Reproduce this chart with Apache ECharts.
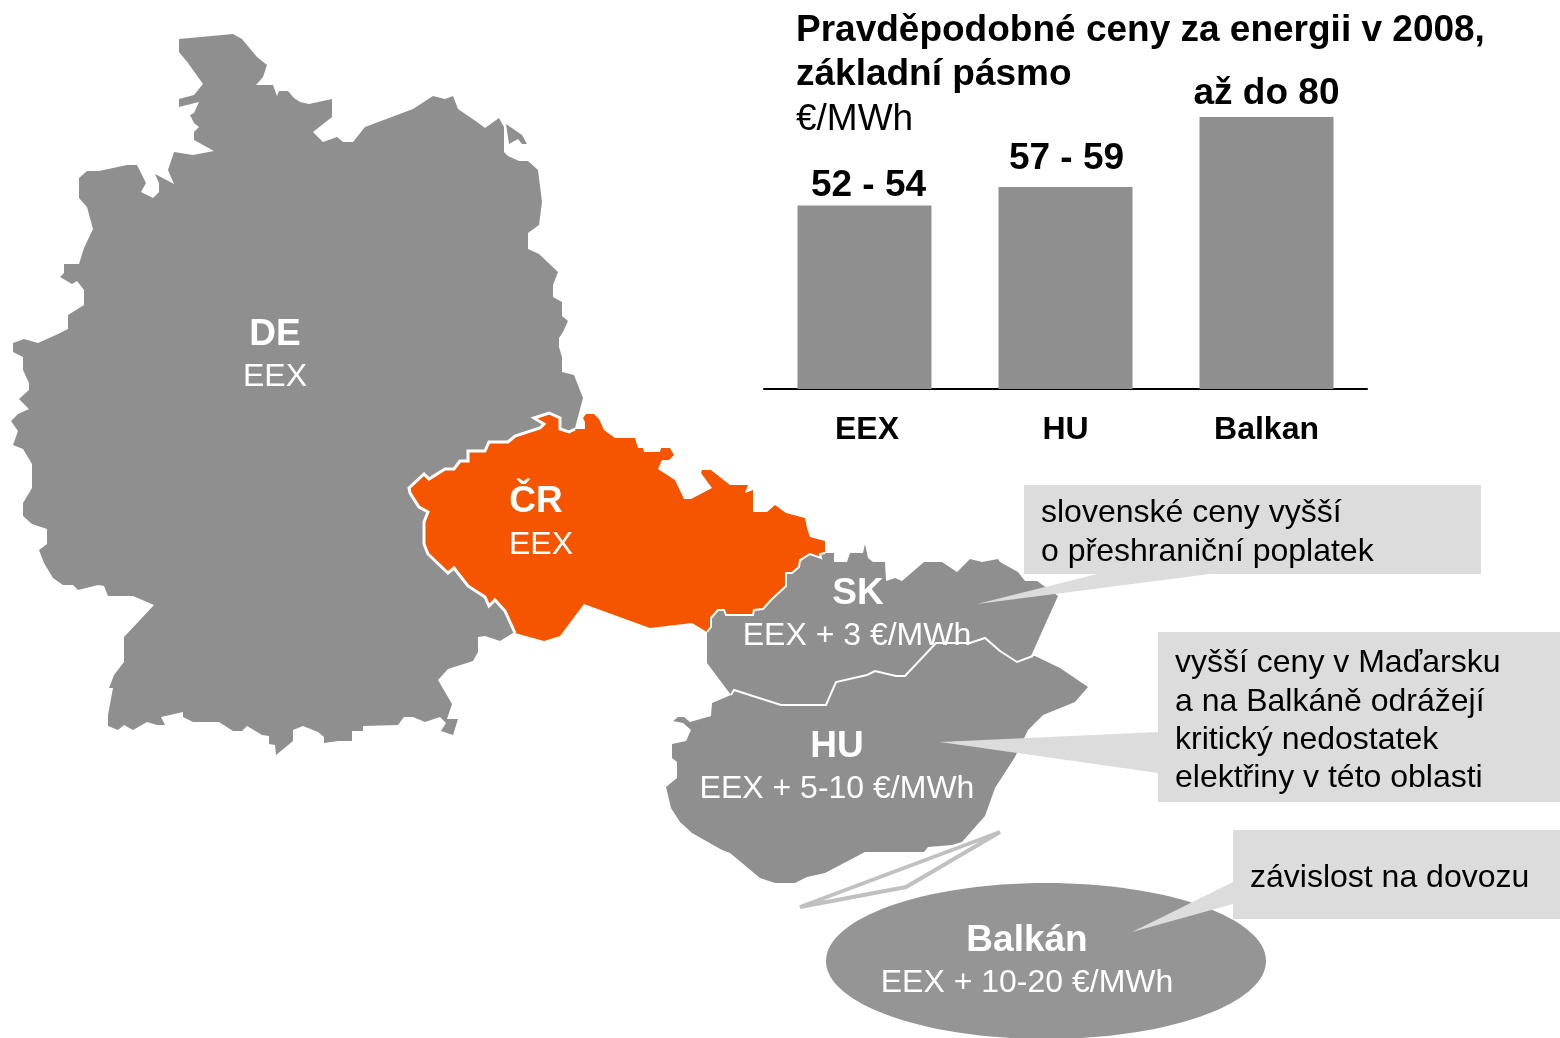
<!DOCTYPE html>
<html>
<head>
<meta charset="utf-8">
<style>
  html, body { margin: 0; padding: 0; background: #fff; }
  #chart { width: 1560px; height: 1038px; }
</style>
<script src="https://cdn.jsdelivr.net/npm/echarts@6/dist/echarts.min.js"></script>
</head>
<body>
<div id="chart"></div>
<script>
// chart data
const categories = ['EEX', 'HU', 'Balkan'];
const priceTop = [54, 59.4, 80];
const rangeLabels = ['52 - 54', '57 - 59', 'až do 80'];

// map outlines, decoration only
const germany = [[179,39],[233,34],[242,39],[257,57],[267,65],[263,77],[256,85],[273,85],[277,96],[279,91],[288,91],[294,98],[300,102],[309,104],[332,99],[332,117],[313,132],[323,142],[337,137],[343,142],[353,142],[365,127],[413,109],[433,96],[445,99],[453,96],[458,109],[477,122],[485,128],[499,118],[504,127],[504,152],[508,156],[519,161],[528,161],[538,170],[542,202],[539,225],[528,233],[528,249],[539,254],[558,272],[553,285],[553,297],[562,302],[562,316],[568,321],[563,332],[559,338],[559,347],[562,357],[562,372],[574,375],[583,398],[575,428],[560,500],[513,633],[500,641],[485,636],[478,637],[478,652],[473,661],[448,669],[438,680],[452,704],[447,719],[458,719],[453,735],[441,731],[446,723],[440,717],[425,722],[413,717],[404,717],[398,725],[363,726],[363,731],[352,731],[352,741],[338,741],[324,743],[324,737],[318,732],[303,726],[293,730],[293,741],[276,755],[275,745],[269,744],[269,736],[262,735],[247,726],[242,731],[233,731],[219,722],[193,722],[183,717],[183,712],[161,717],[165,725],[157,725],[147,722],[133,730],[124,725],[118,730],[108,726],[108,715],[113,688],[109,688],[114,675],[124,662],[124,637],[154,605],[133,596],[108,596],[104,586],[98,585],[78,590],[73,585],[63,585],[53,578],[44,563],[39,550],[47,544],[47,529],[32,524],[23,516],[23,503],[32,488],[32,464],[23,449],[13,445],[18,431],[11,421],[18,414],[29,409],[19,399],[29,390],[29,383],[23,370],[23,357],[13,352],[13,343],[24,339],[38,343],[58,334],[68,329],[68,315],[84,305],[84,290],[77,281],[72,284],[60,277],[64,273],[64,264],[79,264],[84,248],[93,229],[87,207],[79,198],[79,178],[87,171],[99,171],[127,165],[137,165],[146,183],[141,192],[153,198],[159,192],[159,183],[155,174],[174,184],[168,170],[174,152],[193,155],[214,151],[194,140],[194,132],[199,127],[194,123],[190,115],[194,113],[199,102],[179,107],[179,99],[194,95],[203,84],[188,63],[179,52]];
const ruegen = [[506,124],[522,135],[527,144],[522,144],[518,139],[509,144]];
const czechia = [[409,488],[424,474],[429,479],[445,469],[454,469],[460,461],[468,461],[468,451],[485,451],[489,442],[508,442],[515,436],[540,428],[544,424],[534,418],[549,413],[560,418],[560,429],[569,432],[575,429],[585,429],[585,422],[583,418],[586,414],[594,414],[599,419],[604,430],[615,438],[635,438],[638,448],[643,448],[644,452],[660,452],[661,448],[670,448],[674,455],[669,460],[662,460],[658,469],[675,480],[684,499],[691,499],[712,488],[701,473],[702,470],[711,470],[730,485],[748,485],[745,493],[753,490],[753,512],[767,512],[775,505],[786,513],[805,518],[807,528],[810,537],[825,541],[825,553],[820,554],[821,558],[810,554],[800,560],[799,567],[792,573],[786,573],[786,586],[771,600],[763,609],[754,610],[753,615],[726,615],[724,610],[718,610],[711,618],[711,627],[707,632],[692,623],[650,628],[584,604],[560,636],[544,641],[515,633],[505,611],[495,600],[489,606],[485,597],[468,586],[454,568],[448,573],[428,554],[424,544],[424,522],[428,512],[419,507],[410,493]];
const slovakia = [[707,633],[711,617],[718,610],[786,573],[810,554],[825,553],[834,553],[834,562],[847,562],[850,553],[863,553],[865,544],[868,558],[873,562],[885,562],[886,581],[895,578],[902,581],[924,562],[942,562],[957,572],[970,559],[982,562],[998,559],[1000,562],[1018,572],[1025,581],[1037,581],[1058,596],[1031,656],[1017,662],[1000,651],[985,638],[970,643],[936,643],[905,676],[896,676],[875,671],[867,675],[836,682],[826,705],[781,705],[734,690],[731,695],[707,663]];
const hungary = [[731,695],[712,703],[711,716],[690,722],[684,717],[678,717],[673,721],[683,723],[691,730],[686,741],[672,744],[672,758],[677,762],[677,778],[666,787],[671,808],[680,822],[692,833],[722,850],[730,853],[760,878],[775,883],[795,883],[807,877],[825,873],[865,852],[924,852],[928,847],[952,845],[962,842],[985,816],[995,788],[1015,757],[1028,730],[1043,715],[1075,702],[1088,687],[1060,668],[1035,656],[1031,656],[1017,662],[1000,651],[985,638],[970,643],[936,643],[905,676],[896,676],[875,671],[867,675],[836,682],[826,705],[781,705],[734,690]];
const skHuBorder = [[731,695],[734,690],[781,705],[826,705],[836,682],[867,675],[875,671],[896,676],[905,676],[936,643],[970,643],[985,638],[1000,651],[1017,662],[1033,656]];
const bracket = [[800,907],[1000,832],[906,887]];

// white lines only where the Czech border touches grey land
const czWest = czechia.slice(czechia.findIndex(p => p[0] === 515 && p[1] === 633))
  .concat(czechia.slice(0, czechia.findIndex(p => p[0] === 575 && p[1] === 429) + 1));
const czEast = czechia.slice(
  czechia.findIndex(p => p[0] === 825 && p[1] === 553),
  czechia.findIndex(p => p[0] === 707 && p[1] === 632) + 1
);

const GREY = '#8f8f8f';
const CALLOUT = '#dcdcdc';

function poly(points, fill, extra) {
  return Object.assign({
    type: 'polygon',
    shape: { points: points },
    style: { fill: fill }
  }, extra || {});
}

function whiteLine(points, width) {
  return { type: 'polyline', z: 4, shape: { points: points }, style: { stroke: '#fff', lineWidth: width, fill: null } };
}

function label(text, x, y, size, fill, bold, align) {
  return {
    type: 'text',
    x: x,
    y: y,
    z: 20,
    style: {
      text: text,
      fill: fill,
      font: (bold ? 'bold ' : '') + size + 'px "Liberation Sans", Arial, sans-serif',
      textAlign: align || 'center',
      textVerticalAlign: 'middle'
    }
  };
}

const myChart = echarts.init(document.getElementById('chart'), null, { renderer: 'canvas' });

myChart.setOption({
  animation: false,
  backgroundColor: '#fff',
  title: {
    text: 'Pravděpodobné ceny za energii v 2008,\nzákladní pásmo',
    subtext: '€/MWh',
    left: 796,
    top: 9,
    padding: 0,
    itemGap: 1,
    textStyle: { fontFamily: 'Liberation Sans', fontSize: 37, fontWeight: 'bold', color: '#000', lineHeight: 44 },
    subtextStyle: { fontFamily: 'Liberation Sans', fontSize: 37, color: '#000', lineHeight: 44 }
  },
  grid: { left: 764, top: 117, width: 603, height: 272 },
  xAxis: {
    type: 'category',
    data: categories.map((c, i) => (i === 0 ? { value: c, textStyle: { padding: [0, 0, 0, 5] } } : c)),
    axisTick: { show: false },
    axisLine: { lineStyle: { color: '#000', width: 2 } },
    axisLabel: {
      fontFamily: 'Liberation Sans',
      fontSize: 32,
      fontWeight: 'bold',
      color: '#000',
      margin: 25
    }
  },
  yAxis: { type: 'value', min: 0, max: 80, show: false, splitLine: { show: false } },
  series: [{
    type: 'bar',
    barWidth: 134,
    itemStyle: { color: GREY },
    data: priceTop,
    label: {
      show: true,
      position: 'top',
      fontFamily: 'Liberation Sans',
      fontSize: 37,
      fontWeight: 'bold',
      color: '#000',
      formatter: p => rangeLabels[p.dataIndex]
    },
    labelLayout: p => ({ dy: [4, -5, 0][p.dataIndex], dx: [4, 1, 0][p.dataIndex] })
  }],
  graphic: [
    // map shapes
    poly(germany, GREY),
    poly(ruegen, GREY),
    poly(hungary, GREY),
    poly(slovakia, GREY),
    whiteLine(skHuBorder, 2),
    poly(czechia, '#f55500', { z: 3 }),
    whiteLine(czWest, 3),
    whiteLine(czEast, 2),
    { type: 'ellipse', shape: { cx: 1046, cy: 961, rx: 220, ry: 78 }, style: { fill: '#959595' } },
    poly(bracket, 'none', { style: { fill: 'none', stroke: '#c0c0c0', lineWidth: 4, lineJoin: 'miter' }, z: 4 }),

    // callouts
    poly([[1024,485],[1481,485],[1481,574],[1210,574],[977,604],[1097,574],[1024,574]], CALLOUT, { z: 5 }),
    poly([[1158,632],[1560,632],[1560,802],[1158,802],[1158,773],[940,742],[1158,732]], CALLOUT, { z: 5 }),
    poly([[1233,830],[1560,830],[1560,919],[1233,919],[1233,904],[1132,932],[1233,882]], CALLOUT, { z: 5 }),

    // region names
    label('DE', 275, 335, 37, '#fff', true),
    label('EEX', 275, 377, 32, '#fff'),
    label('ČR', 536, 502, 37, '#fff', true),
    label('EEX', 541, 545, 32, '#fff'),
    label('SK', 858, 594, 37, '#fff', true),
    label('EEX + 3 €/MWh', 857, 636, 32, '#fff'),
    label('HU', 837, 747, 37, '#fff', true),
    label('EEX + 5-10 €/MWh', 837, 789, 32, '#fff'),
    label('Balkán', 1027, 941, 37, '#fff', true),
    label('EEX + 10-20 €/MWh', 1027, 983, 32, '#fff'),

    // callout text
    label('slovenské ceny vyšší', 1041, 513, 32, '#000', false, 'left'),
    label('o přeshraniční poplatek', 1041, 552, 32, '#000', false, 'left'),
    label('vyšší ceny v Maďarsku', 1175, 663, 32, '#000', false, 'left'),
    label('a na Balkáně odrážejí', 1175, 702, 32, '#000', false, 'left'),
    label('kritický nedostatek', 1175, 740, 32, '#000', false, 'left'),
    label('elektřiny v této oblasti', 1175, 778, 32, '#000', false, 'left'),
    label('závislost na dovozu', 1250, 878, 32, '#000', false, 'left')
  ]
});
</script>
</body>
</html>
